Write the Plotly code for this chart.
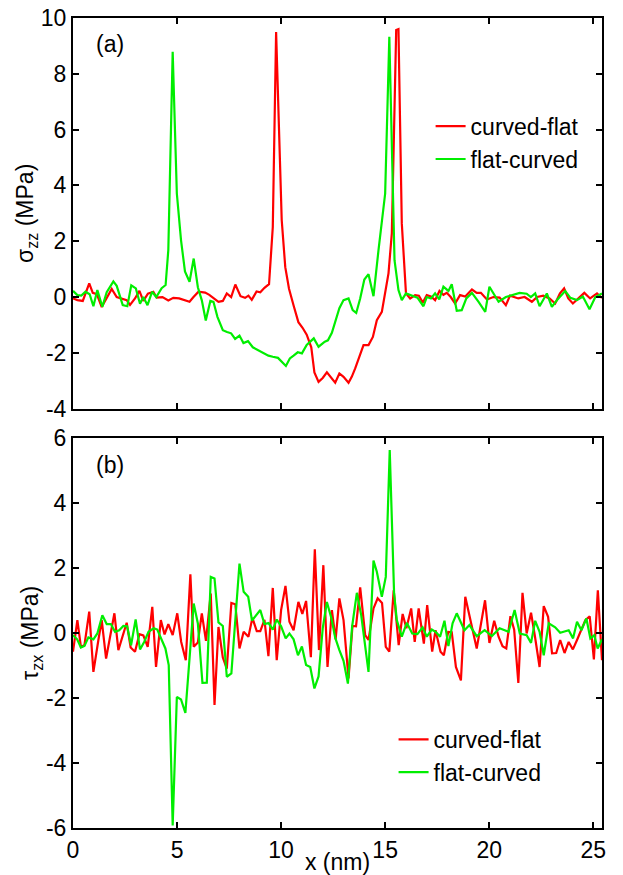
import plotly.graph_objects as go

# ---------------- data ----------------
# Panel (a): sigma_zz (MPa)
top_cf_x = [0.0, 0.21, 0.47, 0.78, 0.95, 1.15, 1.38, 1.62, 1.86, 2.1, 2.35, 2.58, 2.74, 2.98, 3.19, 3.38,
            3.6, 3.86, 4.02, 4.3, 4.58, 4.82, 5.1, 5.38, 5.6, 5.79, 6.03, 6.35, 6.55, 6.99, 7.2, 7.39, 7.6,
            7.8, 8.05, 8.27, 8.43, 8.59, 8.82, 9.0, 9.2, 9.42, 9.6, 9.76, 10.03, 10.2, 10.38, 10.6, 10.83,
            11.03, 11.23, 11.45, 11.6, 11.8, 12.0, 12.2, 12.4, 12.6, 12.8, 13.0, 13.24, 13.4, 13.56, 13.8,
            13.96, 14.2, 14.41, 14.6, 14.84, 15.16, 15.32, 15.53, 15.64, 15.8, 16.0, 16.2, 16.44, 16.62,
            16.81, 17.0, 17.2, 17.4, 17.61, 17.8, 17.96, 18.15, 18.36, 18.6, 18.85, 19.17, 19.4, 19.6,
            19.89, 20.2, 20.5, 20.8, 21.0, 21.4, 21.7, 22.05, 22.3, 22.6, 22.9, 23.17, 23.4, 23.6, 23.8,
            24.02, 24.3, 24.57, 24.85, 25.18, 25.42]
top_cf_y = [-0.05, -0.11, -0.14, 0.49, 0.15, 0.10, -0.36, -0.05, 0.29, 0.0, -0.05, -0.11, -0.28, -0.05, 0.22,
            -0.14, 0.12, 0.19, -0.02, 0.0, -0.12, -0.03, -0.05, -0.11, -0.17, 0.0, 0.19, 0.16, 0.08, -0.17,
            -0.14, 0.13, 0.0, 0.45, 0.03, -0.03, 0.05, -0.1, 0.2, 0.17, 0.33, 0.46, 2.5, 9.5, 2.75, 1.07,
            0.3, -0.3, -0.9, -1.1, -1.35, -1.8, -2.7, -3.04, -2.9, -2.7, -2.9, -3.07, -2.74, -2.86, -3.07,
            -2.85, -2.56, -2.1, -1.72, -1.72, -1.43, -0.83, -0.53, 0.85, 2.28, 9.57, 9.6, 2.64, 0.13, -0.05,
            0.07, 0.05, -0.2, 0.07, 0.02, -0.11, 0.22, 0.08, 0.15, 0.0, -0.23, 0.07, 0.02, 0.27, 0.15, 0.15,
            -0.09, 0.0, -0.02, -0.29, 0.05, -0.05, 0.0, -0.17, 0.0, 0.05, -0.05, -0.23, 0.13, 0.31, -0.05,
            -0.23, -0.02, 0.15, -0.05, 0.13, -0.03]

top_fc_x = [0.0, 0.21, 0.4, 0.6, 0.8, 0.98, 1.17, 1.41, 1.62, 1.94, 2.1, 2.39, 2.61, 2.8, 3.02, 3.22, 3.38,
            3.58, 3.8, 4.0, 4.26, 4.45, 4.58, 4.79, 4.99, 5.19, 5.38, 5.6, 5.8, 6.0, 6.19, 6.38, 6.6, 6.75,
            6.94, 7.2, 7.4, 7.6, 7.79, 8.0, 8.19, 8.41, 8.64, 8.9, 9.15, 9.39, 9.6, 9.85, 10.23, 10.42, 10.6,
            10.8, 11.0, 11.23, 11.57, 11.8, 12.1, 12.25, 12.44, 12.64, 12.8, 13.0, 13.24, 13.44, 13.61,
            13.8, 14.0, 14.2, 14.44, 14.68, 15.0, 15.2, 15.45, 15.64, 15.8, 16.0, 16.3, 16.55, 16.84, 17.0,
            17.2, 17.4, 17.6, 17.8, 18.04, 18.2, 18.44, 18.68, 18.9, 19.17, 19.49, 19.81, 20.01, 20.2,
            20.45, 20.8, 21.17, 21.46, 21.8, 22.0, 22.21, 22.42, 22.77, 23.01, 23.28, 23.65, 23.9, 24.22,
            24.5, 24.82, 25.1, 25.42]
top_fc_y = [0.22, 0.07, 0.05, 0.19, 0.1, -0.33, 0.25, -0.35, 0.17, 0.56, 0.4, -0.29, -0.33, 0.42, 0.31,
            -0.24, 0.0, -0.29, 0.19, 0.0, 0.32, 0.43, 1.68, 8.79, 3.71, 2.04, 0.92, 0.55, 1.38, 0.35, -0.12,
            -0.84, -0.14, -0.17, -0.71, -1.19, -1.25, -1.3, -1.5, -1.38, -1.65, -1.58, -1.8, -1.9, -1.98,
            -2.1, -2.14, -2.18, -2.47, -2.2, -2.1, -1.98, -2.02, -1.72, -1.48, -1.78, -1.6, -1.55, -1.28,
            -0.83, -0.4, -0.11, -0.05, -0.47, -0.57, -0.05, 0.63, 0.82, 0.03, 1.68, 3.71, 9.33, 1.32, 0.25,
            -0.11, 0.13, 0.05, -0.02, -0.33, 0.0, -0.05, 0.13, -0.08, 0.37, 0.22, 0.46, -0.49, -0.47, -0.05,
            0.15, -0.17, -0.53, 0.37, 0.15, -0.17, 0.0, 0.1, 0.15, 0.12, 0.0, 0.13, -0.33, 0.13, -0.35,
            -0.09, 0.22, -0.03, -0.11, 0.02, -0.44, 0.0, 0.13]

# Panel (b): tau_zx (MPa)
bot_cf_x = [0.0, 0.21, 0.38, 0.55, 0.78, 0.98, 1.22, 1.38, 1.59, 1.78, 1.99, 2.18, 2.38, 2.58, 2.77, 2.98,
            3.19, 3.38, 3.59, 3.81, 3.99, 4.22, 4.4, 4.58, 4.79, 5.01, 5.2, 5.42, 5.64, 5.8, 6.0, 6.19, 6.39,
            6.62, 6.8, 6.99, 7.2, 7.39, 7.61, 7.8, 8.0, 8.2, 8.43, 8.62, 8.83, 9.0, 9.2, 9.39, 9.6, 9.79,
            10.0, 10.21, 10.4, 10.6, 10.83, 11.02, 11.2, 11.43, 11.62, 11.82, 12.03, 12.23, 12.44, 12.62,
            12.8, 13.0, 13.24, 13.43, 13.6, 13.8, 14.04, 14.2, 14.44, 14.64, 14.85, 15.03, 15.2, 15.41,
            15.65, 15.84, 16.02, 16.25, 16.42, 16.61, 16.86, 17.02, 17.26, 17.42, 17.66, 17.82, 18.03,
            18.2, 18.4, 18.64, 18.85, 19.1, 19.4, 19.8, 20.01, 20.24, 20.45, 20.64, 20.82, 21.02, 21.2,
            21.4, 21.6, 21.8, 22.01, 22.2, 22.42, 22.62, 22.83, 23.02, 23.22, 23.41, 23.62, 23.82, 24.02,
            24.22, 24.42, 24.62, 24.83, 25.03, 25.22, 25.42]
bot_cf_y = [-0.58, 0.39, -0.43, -0.38, 0.65, -1.2, -0.22, 0.39, -0.79, -0.12, 0.6, -0.53, -0.1, 0.31, -0.45,
            -0.58, -0.04, -0.08, -0.43, 0.8, -1.05, 0.39, -0.05, 0.27, -0.07, 0.6, -0.28, -0.84, 1.8, -0.43,
            -0.3, 0.6, -0.25, 1.21, -2.22, 0.18, -0.76, -1.1, 0.92, 0.88, -0.48, 0.03, -0.12, 0.46, 0.05,
            0.05, 0.4, -0.72, 1.38, -0.84, 0.7, 1.44, 0.34, 0.08, 0.95, 0.58, 0.98, -0.75, 2.57, -0.53, 2.08,
            -1.05, 0.7, -0.2, 1.06, 0.39, -1.4, 0.21, 0.2, 1.4, -0.07, -0.22, 0.75, 1.06, 0.92, -0.43, -0.58,
            1.31, -0.38, 0.58, 0.14, 0.75, -0.28, 0.75, -0.33, 0.85, -0.58, 0.08, -0.58, -0.69, 0.03, 0.02,
            -1.05, -1.46, 1.11, 0.39, -0.48, 1.0, -0.31, 0.37, -0.12, -0.41, -0.48, 0.51, 0.1, -1.54, 1.23,
            -0.02, 0.62, -0.12, -1.05, 0.82, 0.49, -0.63, -0.62, -0.22, -0.62, -0.28, -0.51, -0.22, 0.08,
            0.39, 0.51, -0.82, 1.31, -0.84]

bot_fc_x = [0.0, 0.2, 0.38, 0.55, 0.74, 0.98, 1.17, 1.41, 1.62, 1.82, 2.02, 2.22, 2.42, 2.6, 2.79, 3.01,
            3.22, 3.42, 3.63, 3.88, 4.05, 4.26, 4.44, 4.6, 4.79, 4.99, 5.19, 5.4, 5.8, 6.0, 6.22, 6.43, 6.62,
            6.8, 6.99, 7.2, 7.39, 7.61, 8.0, 8.2, 8.42, 8.6, 8.8, 9.0, 9.2, 9.4, 9.6, 9.79, 10.0, 10.22,
            10.4, 10.6, 10.81, 11.0, 11.2, 11.4, 11.6, 11.8, 12.0, 12.2, 12.42, 12.6, 12.8, 13.0, 13.21,
            13.41, 13.64, 13.85, 14.2, 14.44, 14.6, 14.84, 15.03, 15.22, 15.43, 15.56, 15.8, 16.04, 16.3,
            16.55, 16.8, 17.0, 17.24, 17.44, 17.64, 17.85, 18.04, 18.24, 18.44, 18.67, 18.81, 19.05, 19.4,
            19.78, 20.13, 20.5, 20.93, 21.22, 21.47, 21.8, 22.01, 22.21, 22.42, 22.62, 22.86, 23.17, 23.41,
            23.82, 24.03, 24.22, 24.43, 24.67, 24.86, 25.05, 25.21, 25.42]
bot_fc_y = [-0.07, -0.2, -0.45, -0.4, -0.14, -0.2, -0.02, 0.54, 0.27, 0.27, 0.03, 0.08, 0.21, 0.2, -0.38,
            0.41, -0.51, -0.28, 0.03, 0.14, 0.1, -0.22, -0.48, -0.99, -5.92, -1.97, -2.05, -2.46, 0.9, 0.29,
            -1.54, -1.53, 1.72, 1.67, 0.32, 0.21, -1.35, -1.25, 2.13, 1.26, 1.11, 0.38, 0.55, 0.7, 0.27, 0.3,
            0.1, 0.41, 0.2, -0.17, -0.02, -0.2, -0.69, -0.42, -0.99, -1.05, -1.71, -1.34, 0.14, 0.95, 0.44,
            -0.15, -0.53, -0.86, -1.56, 0.18, 1.23, 0.54, -1.2, 2.22, 1.88, 1.11, 1.72, 5.62, 1.21, 0.39,
            -0.12, 0.31, -0.02, -0.04, 0.17, -0.12, 0.1, 0.02, -0.12, 0.37, -0.41, 0.29, 0.6, 0.24, 0.08,
            0.24, -0.1, 0.08, -0.1, 0.14, 0.03, 0.7, -0.02, -0.07, -0.31, 0.37, 0.03, -0.69, 0.29, 0.17, 0.0,
            0.08, -0.17, 0.34, 0.08, 0.44, -0.17, -0.07, -0.48, -0.2]

series_names = ["curved-flat", "flat-curved"]
x_ticks = [0, 5, 10, 15, 20, 25]
x_tick_text = ["0", "5", "10", "15", "20", "25"]
y_top_ticks = [-4, -2, 0, 2, 4, 6, 8, 10]
y_top_text = ["-4", "-2", "0", "2", "4", "6", "8", "10"]
y_bot_ticks = [-6, -4, -2, 0, 2, 4, 6]
y_bot_text = ["-6", "-4", "-2", "0", "2", "4", "6"]
panel_labels = ["(a)", "(b)"]

# ---------------- style ----------------
RED = "#ff0000"
GREEN = "#00ee00"
FONT = "Liberation Sans, Arial, Helvetica, sans-serif"
FS = 23

fig = go.Figure()
fig.add_trace(go.Scatter(x=top_cf_x, y=top_cf_y, mode="lines", name=series_names[0],
                         line=dict(color=RED, width=2.2), xaxis="x", yaxis="y", legend="legend"))
fig.add_trace(go.Scatter(x=top_fc_x, y=top_fc_y, mode="lines", name=series_names[1],
                         line=dict(color=GREEN, width=2.2), xaxis="x", yaxis="y", legend="legend"))
fig.add_trace(go.Scatter(x=bot_cf_x, y=bot_cf_y, mode="lines", name=series_names[0],
                         line=dict(color=RED, width=2.2), xaxis="x2", yaxis="y2", legend="legend2"))
fig.add_trace(go.Scatter(x=bot_fc_x, y=bot_fc_y, mode="lines", name=series_names[1],
                         line=dict(color=GREEN, width=2.2), xaxis="x2", yaxis="y2", legend="legend2"))

axis_common = dict(showline=True, linecolor="black", linewidth=2, mirror="ticks", ticks="inside",
                   ticklen=6, tickwidth=1.5, tickcolor="black", showgrid=False, zeroline=False,
                   automargin=False, ticklabeloverflow="allow",
                   tickfont=dict(family=FONT, size=FS, color="black"))

X_RANGE = [0, 25.42]
fig.update_layout(
    width=615, height=867,
    margin=dict(l=65, r=21, t=10, b=47, autoexpand=False),
    paper_bgcolor="white", plot_bgcolor="white",
    font=dict(family=FONT, size=FS, color="black"),
    xaxis=dict(domain=[0, 1], range=X_RANGE, anchor="y", tickvals=x_ticks, ticktext=x_tick_text,
               showticklabels=False, **axis_common),
    yaxis=dict(domain=[0.5177, 1.0], range=[-4, 10], anchor="x", tickvals=y_top_ticks, ticktext=y_top_text,
               title=dict(text="σ<sub>zz</sub> (MPa)", standoff=1, font=dict(family=FONT, size=FS)),
               **axis_common),
    xaxis2=dict(domain=[0, 1], range=X_RANGE, anchor="y2", tickvals=x_ticks, ticktext=x_tick_text,
                title=dict(text="x (nm)", standoff=0, font=dict(family=FONT, size=FS)),
                **axis_common),
    yaxis2=dict(domain=[0, 0.4819], range=[-6, 6], anchor="x2", tickvals=y_bot_ticks, ticktext=y_bot_text,
                title=dict(text="τ<sub>zx</sub> (MPa)", standoff=1, font=dict(family=FONT, size=FS)),
                **axis_common),
    legend=dict(x=0.676, y=0.893, xanchor="left", yanchor="top", bgcolor="rgba(0,0,0,0)",
                font=dict(family=FONT, size=FS), tracegroupgap=0),
    legend2=dict(x=0.606, y=0.136, xanchor="left", yanchor="top", bgcolor="rgba(0,0,0,0)",
                 font=dict(family=FONT, size=FS), tracegroupgap=0),
    annotations=[
        dict(text=panel_labels[0], xref="x domain", yref="y domain", x=0.07, y=0.933,
             xanchor="center", yanchor="middle", showarrow=False, font=dict(family=FONT, size=FS)),
        dict(text=panel_labels[1], xref="x2 domain", yref="y2 domain", x=0.07, y=0.930,
             xanchor="center", yanchor="middle", showarrow=False, font=dict(family=FONT, size=FS)),
    ],
)

fig.write_html("out.html")
